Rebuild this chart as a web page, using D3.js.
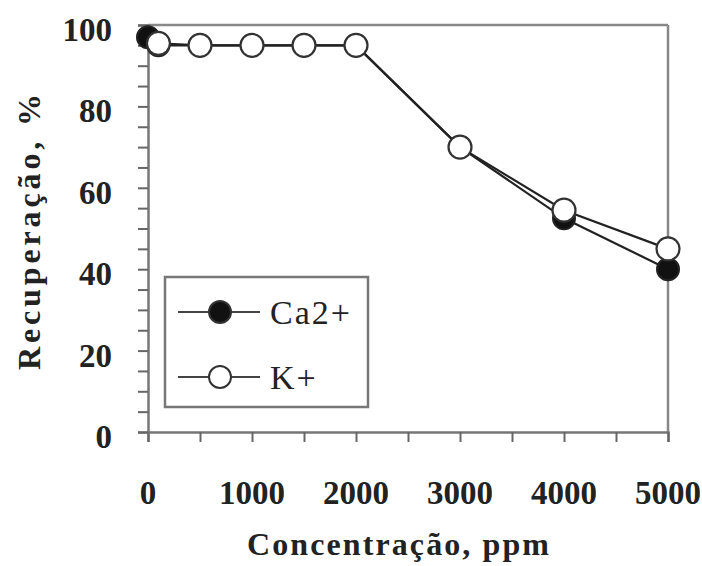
<!DOCTYPE html>
<html>
<head>
<meta charset="utf-8">
<script src="https://cdn.jsdelivr.net/npm/d3@7"></script>
<style>
  body { margin: 0; background: #fff; }
  text { font-family: "Liberation Serif", "DejaVu Serif", serif; fill: #222; }
</style>
</head>
<body>
<div id="chart"></div>
<script>
// data
var caConc = [0, 100, 500, 1000, 1500, 2000, 3000, 4000, 5000];
var caRec  = [97, 95, 95, 95, 95, 95, 70, 52.5, 40];
var kConc  = [100, 500, 1000, 1500, 2000, 3000, 4000, 5000];
var kRec   = [95.5, 95, 95, 95, 95, 70, 54.5, 45];
var xTickLabels = [0, 1000, 2000, 3000, 4000, 5000];
var yTickLabels = [0, 20, 40, 60, 80, 100];
var seriesNames = ["Ca2+", "K+"];

var margin = {top: 25, right: 34, bottom: 134, left: 148},
    width = 702 - margin.left - margin.right,
    height = 566 - margin.top - margin.bottom;

var svg = d3.select("#chart").append("svg")
  .attr("width", 702)
  .attr("height", 566);

var g = svg.append("g")
  .attr("transform", "translate(" + margin.left + "," + margin.top + ")");

var x = d3.scaleLinear().domain([0, 5000]).range([0, width]);
var y = d3.scaleLinear().domain([0, 100]).range([height, 0]);

// frame (top + right)
g.append("line").attr("x1", 0).attr("x2", width).attr("y1", 0).attr("y2", 0)
  .attr("stroke", "#888").attr("stroke-width", 2.5);
g.append("line").attr("x1", width).attr("x2", width).attr("y1", 0).attr("y2", height)
  .attr("stroke", "#888").attr("stroke-width", 2.5);

// x axis: ticks every 500, labels every 1000
var xAxis = g.append("g")
  .attr("transform", "translate(0," + height + ")")
  .call(d3.axisBottom(x).tickValues(d3.range(0, 5001, 500)).tickSize(10).tickFormat(""));
xAxis.select(".domain").attr("stroke", "#777").attr("stroke-width", 2.5);
xAxis.selectAll(".tick line").attr("stroke", "#666").attr("stroke-width", 2);

g.selectAll(".xlab").data(xTickLabels).enter().append("text")
  .attr("class", "xlab")
  .attr("x", d => x(d))
  .attr("y", height + 72)
  .attr("text-anchor", "middle")
  .style("font-size", "33px").style("font-weight", "bold")
  .text(d => d);

// y axis: ticks every 5, labels every 20
var yAxis = g.append("g")
  .call(d3.axisLeft(y).tickValues(d3.range(0, 101, 5)).tickSize(10).tickFormat(""));
yAxis.select(".domain").attr("stroke", "#777").attr("stroke-width", 2.5);
yAxis.selectAll(".tick line").attr("stroke", "#666").attr("stroke-width", 2);

g.selectAll(".ylab").data(yTickLabels).enter().append("text")
  .attr("class", "ylab")
  .attr("x", -36)
  .attr("y", d => y(d) + 16)
  .attr("text-anchor", "end")
  .style("font-size", "33px").style("font-weight", "bold")
  .text(d => d);

// axis titles
svg.append("text")
  .attr("x", 398).attr("y", 555)
  .attr("text-anchor", "middle")
  .attr("textLength", 302).attr("lengthAdjust", "spacing")
  .style("font-size", "32px").style("font-weight", "bold")
  .text("Concentração, ppm");

svg.append("text")
  .attr("transform", "translate(40,232) rotate(-90)")
  .attr("text-anchor", "middle")
  .attr("textLength", 276).attr("lengthAdjust", "spacing")
  .style("font-size", "32px").style("font-weight", "bold")
  .text("Recuperação, %");

// series
var line = d3.line().x(d => x(d[0])).y(d => y(d[1]));
var caData = caConc.map((c, i) => [c, caRec[i]]);
var kData = kConc.map((c, i) => [c, kRec[i]]);

g.append("path").datum(caData).attr("d", line)
  .attr("fill", "none").attr("stroke", "#222").attr("stroke-width", 2.2);
g.selectAll(".ca").data(caData).enter().append("circle")
  .attr("class", "ca")
  .attr("cx", d => x(d[0])).attr("cy", d => y(d[1])).attr("r", 11)
  .attr("fill", "#111").attr("stroke", "#222").attr("stroke-width", 2);

g.append("path").datum(kData).attr("d", line)
  .attr("fill", "none").attr("stroke", "#222").attr("stroke-width", 2.2);
g.selectAll(".k").data(kData).enter().append("circle")
  .attr("class", "k")
  .attr("cx", d => x(d[0])).attr("cy", d => y(d[1])).attr("r", 11.5)
  .attr("fill", "#fff").attr("stroke", "#333").attr("stroke-width", 2.2);

// legend
var legend = svg.append("g").attr("transform", "translate(165,277)");
legend.append("rect").attr("width", 203).attr("height", 130)
  .attr("fill", "#fff").attr("stroke", "#777").attr("stroke-width", 2.5);

var fills = ["#111", "#fff"];
seriesNames.forEach(function(name, i) {
  var row = legend.append("g").attr("transform", "translate(0," + (35 + i * 65) + ")");
  row.append("line").attr("x1", 13).attr("x2", 95)
    .attr("stroke", "#444").attr("stroke-width", 2);
  row.append("circle").attr("cx", 55).attr("r", 11)
    .attr("fill", fills[i]).attr("stroke", "#333").attr("stroke-width", 2);
  row.append("text").attr("x", 105).attr("y", 12)
    .style("font-size", "34px")
    .attr("letter-spacing", "2px")
    .text(name);
});
</script>
</body>
</html>
